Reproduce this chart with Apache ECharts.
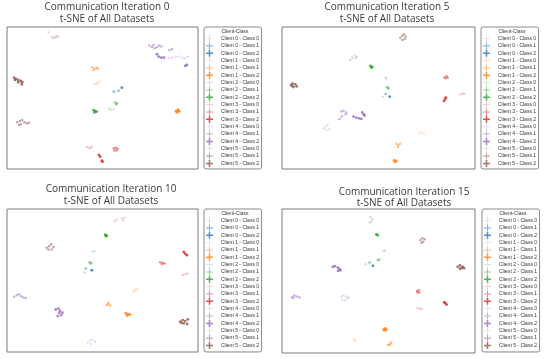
<!DOCTYPE html>
<html>
<head>
<meta charset="utf-8">
<script src="https://cdn.jsdelivr.net/npm/echarts@6/dist/echarts.min.js"></script>
<style>html,body{margin:0;padding:0;background:#fff}#chart{width:550px;height:359px}</style>
</head>
<body>
<div id="chart"></div>
<script>
// ---- data (t-SNE coordinates), each client: [Class 0, Class 1, Class 2]
const panelTitles = ['Communication Iteration 0', 'Communication Iteration 5', 'Communication Iteration 10', 'Communication Iteration 15'];
const subTitle = 't-SNE of All Datasets';
const legendTitle = 'Client-Class';
const clients = ['Client 0', 'Client 1', 'Client 2', 'Client 3', 'Client 4', 'Client 5'];
const classes = ['Class 0', 'Class 1', 'Class 2'];

const iter0_client0 = [[[6.6,3.6]], [[5.8,3.3],[8.4,3.8]], [[10.1,5.4]]];
const iter0_client1 = [[[-4.2,7.3],[-3.0,8.0],[-1.6,8.5],[-2.5,7.1]], [[-5.3,16.0],[-4.2,15.1],[-3.0,15.8],[-4.7,14.6],[-2.5,15.1]], [[38.4,-6.8],[39.5,-6.1],[40.2,-7.1],[39.0,-7.5],[39.8,-6.6]]];
const iter0_client2 = [[[3.5,-5.7],[4.5,-6.1],[5.8,-5.9]], [[6.6,-2.3],[7.5,-2.8],[7.2,-3.3]], [[-4.7,-6.3],[-3.9,-6.8],[-3.0,-7.1],[-4.2,-7.5]]];
const iter0_client3 = [[[-8.2,-25.5],[-7.0,-25.9],[-5.6,-25.4],[-6.5,-26.2]], [[5.9,-26.2],[7.0,-25.9],[8.0,-26.6],[7.3,-27.4],[6.2,-27.3]], [[-1.9,-29.7],[-1.2,-30.6],[0.0,-33.2],[-0.3,-32.7]]];
const iter0_client4 = [[[34.6,20.7],[36.4,21.0],[38.4,21.4],[40.2,21.7],[41.9,21.0],[43.3,20.7],[44.7,21.5]], [[24.5,27.3],[25.9,26.6],[27.3,25.9],[28.5,26.6],[29.7,27.3],[30.8,26.9],[26.7,27.6],[35.0,25.0],[36.4,25.4]], [[28.5,22.8],[29.4,21.5],[30.8,21.0],[32.2,21.0],[44.2,17.2],[43.3,16.7]]];
const iter0_client5 = [[[-28.3,34.2],[-26.6,31.6],[-25.2,32.0],[-24.0,32.3],[-23.1,31.8],[-25.7,31.1],[-24.5,31.4]], [[-44.6,-12.7],[-43.2,-12.0],[-42.0,-11.5],[-40.9,-12.7],[-39.7,-13.2],[-38.5,-12.9],[-42.7,-13.7],[-43.7,-14.1]], [[-46.3,10.6],[-45.3,9.9],[-44.1,9.4],[-42.8,8.9],[-42.0,8.2],[-42.3,7.1],[-44.1,8.2],[-45.8,9.4]]];

const iter5_client0 = [[[2.3,0.7]], [[3.7,2.1]], [[5.8,0.7]]];
const iter5_client1 = [[[21.1,-18.4],[22.3,-17.9],[23.5,-18.6]], [[9.3,-23.8],[10.3,-24.5],[11.3,-23.8],[10.1,-25.5]], [[8.1,-32.5],[9.3,-32.8],[8.6,-33.3]]];
const iter5_client2 = [[[3.7,10.6],[4.1,9.9]], [[4.4,5.7],[5.3,5.2],[4.9,4.9]], [[-4.2,16.7],[-3.2,16.2],[-3.7,15.8]]];
const iter5_client3 = [[[42.5,1.9],[43.6,2.4],[44.4,2.1]], [[34.2,10.8],[35.3,11.3],[35.8,10.6],[34.7,10.3]], [[34.0,-1.6],[34.9,0.2],[34.5,-0.5]]];
const iter5_client4 = [[[-28.5,-15.8],[-27.5,-14.9],[-26.3,-14.1],[-25.4,-16.2],[-27.1,-16.7]], [[-19.3,-7.1],[-18.1,-6.6],[-16.7,-7.5],[-17.1,-8.5],[-20.2,-10.9],[-19.0,-9.7]], [[-12.9,-9.7],[-11.5,-10.2],[-10.1,-10.6],[-8.9,-10.9],[-8.4,-7.5],[-7.7,-8.5],[-7.2,-9.2]]];
const iter5_client5 = [[[-14.6,19.8],[-13.6,21.0],[-12.4,22.1],[-11.2,21.5],[-11.9,20.7]], [[11.3,31.4],[12.4,32.5],[13.1,33.2],[14.1,32.0],[13.6,30.7],[12.4,30.2]], [[-45.3,6.8],[-44.5,7.5],[-43.1,7.1],[-42.4,6.1],[-44.1,5.7],[-44.8,6.3]]];

const iter10_client0 = [[[-9.4,4.1]], [[-8.7,6.2]], [[-5.6,5.3]]];
const iter10_client1 = [[[16.2,-5.7],[17.1,-5.0],[18.0,-4.6]], [[2.3,-12.7],[3.1,-11.5],[4.0,-12.9],[2.8,-12.2]], [[12.2,-17.0],[13.3,-17.4],[14.3,-17.6],[12.9,-18.1]]];
const iter10_client2 = [[[-5.3,15.1],[-4.2,15.0]], [[-6.8,9.5],[-5.9,9.1],[-6.3,8.8]], [[1.4,23.7],[2.3,23.2],[1.8,22.9]]];
const iter10_client3 = [[[42.1,2.9],[43.3,3.3],[44.4,3.6]], [[30.2,9.5],[31.5,9.1],[32.5,8.8],[31.1,8.6]], [[42.5,14.8],[44.2,13.1],[43.3,13.9]]];
const iter10_client4 = [[[-7.7,-32.2],[-6.5,-31.2],[-5.3,-30.8],[-3.9,-31.7],[-6.0,-32.9]], [[-46.2,-8.4],[-44.9,-7.6],[-43.7,-7.1],[-42.7,-8.1],[-41.4,-8.8],[-40.2,-9.1]], [[-24.5,-15.0],[-23.1,-14.6],[-22.2,-15.7],[-21.0,-16.7],[-21.7,-17.9],[-23.4,-18.4],[-22.7,-16.7]]];
const iter10_client5 = [[[6.3,30.8],[7.5,31.5],[10.1,32.0],[11.5,32.5],[11.0,31.1]], [[-29.2,17.0],[-28.0,17.7],[-26.9,18.8],[-25.7,17.4],[-26.6,16.0],[-28.3,16.0]], [[40.7,-21.3],[42.0,-20.5],[43.3,-21.0],[44.7,-20.1],[42.5,-22.2],[44.3,-22.5],[41.3,-21.9]]];

const iter15_client0 = [[[-6.7,8.6]], [[-4.6,9.5]], [[-2.9,7.8]]];
const iter15_client1 = [[[-12.7,-30.1],[-12.2,-30.8]], [[4.9,-32.8],[6.1,-32.2],[6.6,-31.6],[5.8,-33.0]], [[2.7,-24.7],[3.7,-24.4],[4.1,-25.2],[3.0,-25.4]]];
const iter15_client2 = [[[2.7,15.4],[3.4,15.6]], [[-0.3,10.7],[0.4,11.1]], [[-1.1,23.9],[-0.4,23.5]]];
const iter15_client3 = [[[20.2,-14.0],[21.4,-14.4],[22.4,-14.5]], [[20.0,-5.2],[20.9,-4.8],[21.1,-5.9],[20.2,-5.9]], [[34.1,-10.9],[35.3,-12.1],[34.6,-11.4]]];
const iter15_client4 = [[[-19.3,-8.0],[-18.1,-7.4],[-16.7,-8.0],[-16.2,-9.0],[-17.4,-10.0],[-18.8,-9.7],[-15.3,-8.6]], [[-44.8,-8.3],[-43.6,-7.4],[-42.4,-8.0],[-41.0,-8.3],[-44.1,-8.8]], [[-23.7,7.3],[-22.6,7.6],[-21.1,6.9],[-20.2,6.2],[-19.7,5.5],[-20.9,5.2]]];
const iter15_client5 = [[[-4.2,32.9],[-3.2,31.8],[-4.6,30.1],[-3.6,30.6]], [[21.7,21.1],[22.8,22.0],[24.0,21.4],[23.1,20.2],[22.3,19.7]], [[41.0,7.3],[42.2,8.0],[43.6,7.3],[44.3,6.6],[42.2,6.2],[43.1,6.7]]];

const panels = [
  [iter0_client0, iter0_client1, iter0_client2, iter0_client3, iter0_client4, iter0_client5],
  [iter5_client0, iter5_client1, iter5_client2, iter5_client3, iter5_client4, iter5_client5],
  [iter10_client0, iter10_client1, iter10_client2, iter10_client3, iter10_client4, iter10_client5],
  [iter15_client0, iter15_client1, iter15_client2, iter15_client3, iter15_client4, iter15_client5]
];

// ---- styles / layout
const baseColors = ['#1f77b4', '#ff7f0e', '#2ca02c', '#d62728', '#9467bd', '#8c564b'];
const classAlpha = [0.35, 0.65, 1.0];
const classSize = [2.3, 2.5, 2.8];
function blend(hex, a) {
  const n = parseInt(hex.slice(1), 16);
  const r = n >> 16, g = (n >> 8) & 255, b = n & 255;
  const f = c => Math.round(255 - a * (255 - c));
  return 'rgb(' + f(r) + ',' + f(g) + ',' + f(b) + ')';
}
function plusPath(t) {
  const a = 5 - t / 2;
  return 'path://M' + a + ',0h' + t + 'v' + a + 'h' + a + 'v' + t + 'h-' + a + 'v' + a + 'h-' + t + 'v-' + a + 'h-' + a + 'v-' + t + 'h' + a + 'z';
}
const plusIcons = [plusPath(1.0), plusPath(1.5), plusPath(2.2)];

const grids = [
  {left: 7, top: 27, width: 191, height: 142},
  {left: 282, top: 27, width: 193, height: 142},
  {left: 7, top: 209, width: 191, height: 143},
  {left: 282, top: 209, width: 193, height: 144}
];
const legendPos = [
  {left: 204, top: 27, bottomPad: 2},
  {left: 481, top: 27, bottomPad: 2},
  {left: 204, top: 209, bottomPad: 3},
  {left: 482, top: 209, bottomPad: 3}
];
const titlePos = [
  {x: 107, y: 1, lh: 12},
  {x: 387, y: 1.3, lh: 11.7},
  {x: 111, y: 183, lh: 12.4},
  {x: 404, y: 186, lh: 11.6}
];

const names = [];
clients.forEach(c => classes.forEach(k => names.push(c + ' - ' + k)));

const series = [];
panels.forEach((panel, p) => {
  panel.forEach((clientData, ci) => {
    clientData.forEach((pts, ki) => {
      series.push({
        type: 'scatter',
        name: clients[ci] + ' - ' + classes[ki],
        xAxisIndex: p, yAxisIndex: p,
        data: pts,
        symbol: 'circle',
        symbolSize: classSize[ki],
        itemStyle: {color: blend(baseColors[ci], classAlpha[ki])},
        silent: true
      });
    });
  });
});

const legendData = names.map((n, i) => ({name: n, icon: plusIcons[i % 3]}));

const option = {
  backgroundColor: '#fff',
  animation: false,
  title: titlePos.map((t, i) => ({
    text: panelTitles[i] + '\n' + subTitle,
    left: t.x, top: t.y, textAlign: 'center', padding: 0,
    textStyle: {fontFamily: 'Open Sans', fontSize: 10, fontWeight: 'normal', color: '#3a3a3a', lineHeight: t.lh}
  })).concat(legendPos.map((l, i) => ({
    text: legendTitle,
    left: l.left + 31, top: l.top + 2, textAlign: 'center', padding: 0,
    textStyle: {fontFamily: 'Liberation Sans', fontSize: 5, fontWeight: 'normal', color: '#333', lineHeight: 6}
  }))),
  grid: grids.map(g => Object.assign({show: true, borderColor: '#7a7a7a', borderWidth: 1, backgroundColor: '#fff'}, g)),
  xAxis: grids.map((g, i) => ({type: 'value', gridIndex: i, min: -50, max: 50, show: false})),
  yAxis: grids.map((g, i) => ({type: 'value', gridIndex: i, min: -37, max: 37, show: false})),
  legend: legendPos.map(l => ({
    orient: 'vertical', left: l.left, top: l.top,
    data: legendData,
    itemWidth: 7, itemHeight: 7, itemGap: 0.35,
    padding: [8, 2.5, l.bottomPad, 2],
    backgroundColor: '#fff', borderColor: '#8a8a8a', borderWidth: 1, borderRadius: 2,
    selectedMode: false,
    textStyle: {fontFamily: 'Liberation Sans', fontSize: 5, color: '#333', padding: [0, 0, 0, 3]}
  })),
  series: series
};

const chart = echarts.init(document.getElementById('chart'), null, {renderer: 'canvas'});
chart.setOption(option);
</script>
</body>
</html>
